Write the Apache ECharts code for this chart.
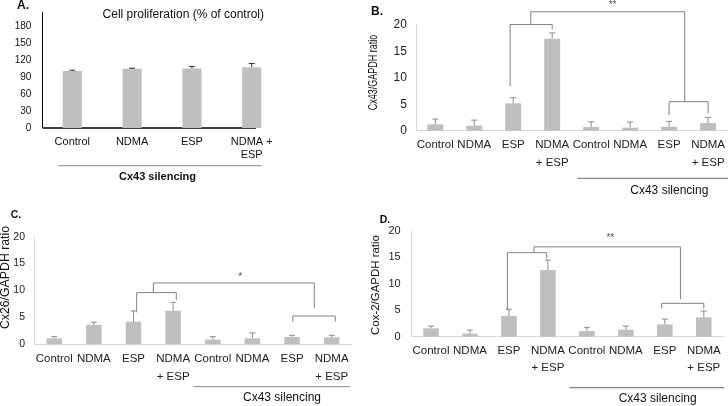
<!DOCTYPE html>
<html><head><meta charset="utf-8">
<script src="https://cdn.jsdelivr.net/npm/echarts@6/dist/echarts.min.js"></script>
<style>html,body{margin:0;padding:0;background:#fff}#c{width:728px;height:406px}</style>
</head><body><div id="c"></div><script>
// ---- data ----
const catsA = ['Control', 'NDMA', 'ESP', 'NDMA +\nESP'];
const catsBCD = ['Control', 'NDMA', 'ESP', 'NDMA\n+ ESP', 'Control', 'NDMA', 'ESP', 'NDMA\n+ ESP'];
const ticksA = [0, 30, 60, 90, 120, 150, 180];
const ticksBCD = [0, 5, 10, 15, 20];
const prolifMean = [100.3, 104.4, 105.0, 107.3];
const prolifErr = [1.7, 1.1, 3.5, 6.5];
const cx43Mean = [1.2, 0.95, 5.17, 17.4, 0.69, 0.57, 0.76, 1.45];
const cx43Err = [1.0, 1.05, 1.07, 1.1, 1.0, 1.07, 1.0, 1.07];
const cx26Mean = [1.11, 3.6, 4.2, 6.25, 0.87, 1.11, 1.36, 1.3];
const cx26Err = [0.31, 0.5, 2.0, 1.55, 0.55, 1.0, 0.31, 0.37];
const cox2Mean = [1.58, 0.57, 3.9, 12.6, 1.07, 1.32, 2.33, 3.66];
const cox2Err = [0.42, 0.69, 1.3, 1.9, 0.7, 0.68, 1.0, 1.2];
// significance brackets: polylines in [category index, value]
const bracketsB = [
  [[1.92, 8.45], [1.92, 20.1], [3, 20.1], [3, 19.2]],
  [[2.45, 20.1], [2.45, 22.5], [6.4, 22.5], [6.4, 5.49]],
  [[6, 2.97], [6, 5.49], [7, 5.49], [7, 3.3]]
];
const starB = {text: '**', pos: [4.55, 23.8]};
const bracketsC = [
  [[2.08, 5.94], [2.08, 9.6], [3.08, 9.6], [3.08, 8.2]],
  [[2.5, 9.6], [2.5, 11.4], [6.56, 11.4], [6.56, 6.7]],
  [[6.02, 4.2], [6.02, 5.26], [7.09, 5.26], [7.09, 4.2]]
];
const starC = {text: '*', pos: [4.69, 12.4]};
const bracketsD = [
  [[1.96, 5.05], [1.96, 15.9], [2.97, 15.9], [2.97, 14.8]],
  [[2.64, 15.9], [2.64, 17.0], [6.4, 17.0], [6.4, 7.07]],
  [[5.92, 5.3], [5.92, 6.32], [7, 6.32], [7, 5.3]]
];
const starD = {text: '**', pos: [4.6, 18.6]};

const FONT = "'Liberation Sans', Arial, sans-serif";
const BAR = '#bfbfbf';

function errSeries(i, means, errs, color) {
  return {
    type: 'custom', xAxisIndex: i, yAxisIndex: i, z: 4, silent: true, clip: false,
    data: means.map((m, k) => [k, m, m + errs[k]]),
    encode: {x: 0, y: [1, 2]},
    renderItem: (params, api) => {
      const lo = api.coord([api.value(0), api.value(1)]);
      const hi = api.coord([api.value(0), api.value(2)]);
      return {type: 'group', children: [
        {type: 'line', shape: {x1: lo[0], y1: lo[1], x2: hi[0], y2: hi[1]}, style: {stroke: color, lineWidth: 1}},
        {type: 'line', shape: {x1: hi[0] - 3, y1: hi[1], x2: hi[0] + 3, y2: hi[1]}, style: {stroke: color, lineWidth: 1}}
      ]};
    }
  };
}
function bracketSeries(i, brackets, star) {
  const items = brackets.map(b => ({kind: 'b', b}));
  items.push({kind: 's', s: star});
  return {
    type: 'custom', xAxisIndex: i, yAxisIndex: i, z: 5, silent: true, clip: false,
    data: items.map(() => [0, 0]),
    renderItem: (params, api) => {
      const it = items[params.dataIndex];
      const band = api.size([1, 0])[0];
      const pt = ([x, y]) => { const base = Math.floor(x); const p = api.coord([base, y]); return [p[0] + (x - base) * band, p[1]]; };
      if (it.kind === 'b') {
        return {type: 'polyline', shape: {points: it.b.map(pt)}, style: {stroke: '#808080', lineWidth: 1, fill: null}};
      }
      const p = pt(it.s.pos);
      return {type: 'text', x: p[0], y: p[1], style: {text: it.s.text, fill: '#555', font: '10px ' + FONT, align: 'center', verticalAlign: 'middle'}};
    }
  };
}
function barSeries(i, data, w) {
  return {type: 'bar', xAxisIndex: i, yAxisIndex: i, data, barWidth: w, itemStyle: {color: BAR}, silent: true, z: 2};
}

const grids = [
  {left: 42.4, top: 12.3, width: 239.2, height: 115.7},
  {left: 415.8, top: 25, width: 312.2, height: 105.7},
  {left: 34.4, top: 236.7, width: 317.1, height: 107.6},
  {left: 411.5, top: 231, width: 311.8, height: 105.7}
];
const catLabelCfg = [
  {fontSize: 11, lineHeight: 12.5, margin: 8, color: '#111'},
  {fontSize: 11.5, lineHeight: 18, margin: 5.3, color: '#222'},
  {fontSize: 11.5, lineHeight: 17.7, margin: 5.8, color: '#222'},
  {fontSize: 11.5, lineHeight: 17, margin: 5.5, color: '#222'}
];
const xAxes = [catsA, catsBCD, catsBCD, catsBCD].map((cats, i) => ({
  type: 'category', gridIndex: i, data: cats,
  axisTick: {show: false},
  axisLine: {show: i !== 0, lineStyle: {color: '#d9d9d9', width: 1}},
  axisLabel: Object.assign({interval: 0, fontFamily: FONT}, catLabelCfg[i])
}));
const yAxes = [
  {type: 'value', gridIndex: 0, min: ticksA[0], max: 204, interval: 30,
   axisLine: {show: true, lineStyle: {color: '#000', width: 1}}, axisTick: {show: false}, splitLine: {show: false},
   axisLabel: {fontSize: 10, margin: 11, color: '#111', fontFamily: FONT, formatter: v => ticksA.includes(v) ? String(v) : ''}}
].concat([1, 2, 3].map(i => ({
  type: 'value', gridIndex: i, min: ticksBCD[0], max: ticksBCD[ticksBCD.length - 1], interval: 5,
  axisLine: {show: true, lineStyle: {color: '#d9d9d9', width: 1}}, axisTick: {show: false}, splitLine: {show: false},
  axisLabel: {fontSize: [0, 12, 10.5, 11][i], margin: [0, 9, 9.4, 10.8][i], color: '#222', fontFamily: FONT,
    formatter: v => ticksBCD.includes(v) ? String(v) : ''}
})));

const series = [
  barSeries(0, prolifMean, '32%'), errSeries(0, prolifMean, prolifErr, '#333'),
  barSeries(1, cx43Mean, '41%'), errSeries(1, cx43Mean, cx43Err, '#8c8c8c'), bracketSeries(1, bracketsB, starB),
  barSeries(2, cx26Mean, '39%'), errSeries(2, cx26Mean, cx26Err, '#8c8c8c'), bracketSeries(2, bracketsC, starC),
  barSeries(3, cox2Mean, '40%'), errSeries(3, cox2Mean, cox2Err, '#8c8c8c'), bracketSeries(3, bracketsD, starD)
];

function txt(x, y, text, font, extra) {
  return Object.assign({type: 'text', x, y, silent: true,
    style: {text, font, fill: '#111', align: 'center', verticalAlign: 'middle'}}, extra || {});
}
function rtxt(x, y, text, size, sx) {
  return {type: 'text', x, y, rotation: Math.PI / 2, scaleX: sx || 1, silent: true,
    style: {text, font: size + 'px ' + FONT, fill: '#111', align: 'center', verticalAlign: 'middle'}};
}
function gline(x1, x2, y, color, w) {
  return {type: 'line', silent: true, shape: {x1, y1: y, x2, y2: y}, style: {stroke: color, lineWidth: w || 1}};
}
const graphic = [
  txt(23, 6, 'A.', 'bold 12px ' + FONT),
  txt(377, 12, 'B.', 'bold 12px ' + FONT),
  txt(16, 215, 'C.', 'bold 10.5px ' + FONT),
  txt(385, 220, 'D.', 'bold 10.5px ' + FONT),
  txt(183.3, 14.3, 'Cell proliferation (% of control)', '12px ' + FONT),
  gline(43, 256, 128, '#000', 1.5),
  gline(58.3, 261.7, 165.7, '#888'),
  txt(157.5, 176.7, 'Cx43 silencing', 'bold 11px ' + FONT),
  gline(577.7, 728, 178.3, '#666'),
  txt(669.3, 190.7, 'Cx43 silencing', '12px ' + FONT),
  gline(193.7, 350, 386.7, '#888'),
  txt(282, 397.7, 'Cx43 silencing', '12px ' + FONT),
  gline(569.3, 724.3, 387.7, '#666'),
  txt(657.7, 398.3, 'Cx43 silencing', '12px ' + FONT),
  rtxt(373.3, 72.5, 'Cx43/GAPDH ratio', 12.5, 0.72),
  rtxt(6, 277.5, 'Cx26/GAPDH ratio', 12.3),
  rtxt(375.7, 285, 'Cox-2/GAPDH ratio', 11.8, 0.97)
];

const chart = echarts.init(document.getElementById('c'), null, {renderer: 'canvas'});
chart.setOption({
  animation: false,
  backgroundColor: '#fff',
  grid: grids,
  xAxis: xAxes,
  yAxis: yAxes,
  series,
  graphic
});
</script></body></html>
